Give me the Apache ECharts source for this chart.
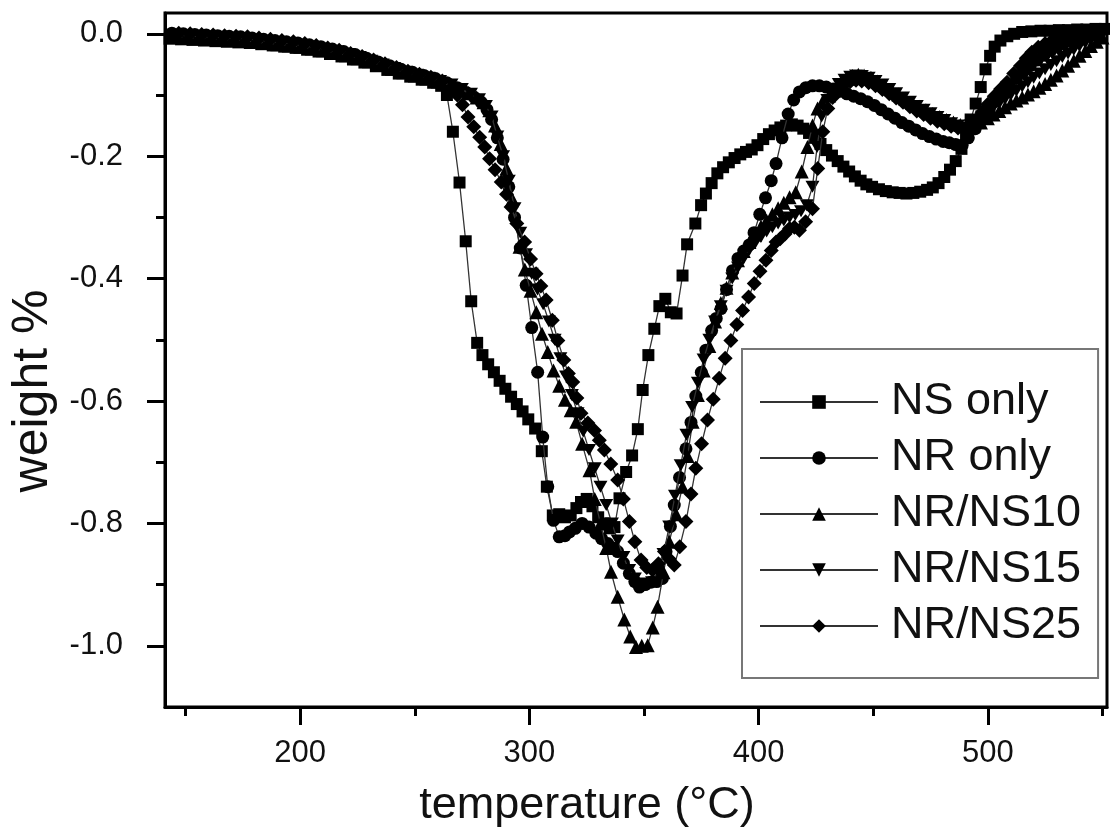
<!DOCTYPE html>
<html><head><meta charset="utf-8">
<script src="https://cdn.jsdelivr.net/npm/echarts@6/dist/echarts.min.js"></script>
<style>html,body{margin:0;padding:0;background:#fff}#c{width:1110px;height:837px}</style>
</head><body><div id="c"></div>
<script>
const seriesNames = ['NS only', 'NR only', 'NR/NS10', 'NR/NS15', 'NR/NS25'];
const xTickLabels = [200, 300, 400, 500];
const yTickLabels = [-1.0, -0.8, -0.6, -0.4, -0.2, 0.0];

const nsOnly = [[143,-0.008],[148,-0.009],[153,-0.010],[158,-0.011],[163,-0.012],[168,-0.013],[173,-0.014],[178,-0.015],[183,-0.017],[188,-0.019],[193,-0.021],[198,-0.023],[203,-0.026],[208,-0.029],[213,-0.033],[218,-0.037],[223,-0.042],[228,-0.047],[233,-0.053],[238,-0.059],[243,-0.065],[248,-0.070],[253,-0.075],[258,-0.080],[261.5,-0.085],[264,-0.100],[266.6,-0.160],[269.5,-0.243],[272.2,-0.339],[274.6,-0.437],[277.2,-0.505],[279.5,-0.525],[282,-0.540],[284.5,-0.553],[287,-0.567],[289.5,-0.580],[292,-0.593],[294.5,-0.605],[297,-0.617],[299.5,-0.630],[302.5,-0.645],[305.4,-0.682],[307.6,-0.740],[310.2,-0.787],[313,-0.785],[315.5,-0.790],[318,-0.787],[320.5,-0.775],[322.5,-0.765],[325,-0.760],[327.5,-0.772],[330,-0.790],[332.5,-0.800],[335,-0.808],[337.1,-0.806],[339.3,-0.759],[342.2,-0.716],[344.8,-0.689],[347.3,-0.646],[349.4,-0.582],[351.9,-0.525],[354.5,-0.482],[356.7,-0.445],[359.3,-0.433],[361.7,-0.455],[364.2,-0.457],[366.8,-0.395],[368.8,-0.344],[372.4,-0.310],[374.9,-0.280],[377,-0.261],[379.5,-0.244],[382,-0.228],[384.5,-0.218],[387,-0.210],[389.5,-0.203],[392,-0.197],[394.5,-0.193],[397,-0.189],[399.5,-0.182],[402,-0.172],[404.5,-0.164],[407,-0.158],[409.5,-0.153],[412,-0.150],[414.5,-0.148],[417,-0.150],[419.5,-0.155],[422,-0.162],[424.5,-0.170],[427,-0.180],[429.5,-0.190],[432,-0.199],[434.5,-0.208],[437,-0.217],[439.5,-0.225],[442,-0.233],[444.5,-0.240],[447,-0.246],[449.5,-0.250],[452.5,-0.254],[455.5,-0.257],[458.5,-0.259],[461.5,-0.260],[464.5,-0.261],[467.5,-0.260],[470.5,-0.258],[473.5,-0.255],[476,-0.251],[478.5,-0.244],[481,-0.234],[483.5,-0.222],[486,-0.208],[488.5,-0.188],[490.5,-0.165],[492.5,-0.140],[494.7,-0.114],[496.9,-0.087],[499,-0.058],[501,-0.036],[503,-0.021],[505.5,-0.011],[508.5,-0.004],[511.5,0.000],[515,0.003],[519,0.004],[523,0.005],[527,0.005],[531,0.006],[535,0.006],[539,0.007],[543,0.007],[547,0.008],[551,0.008]];

const nrOnly = [[144,0.001],[149,0.000],[154,-0.001],[159,-0.002],[164,-0.003],[169,-0.004],[174,-0.005],[179,-0.007],[184,-0.009],[189,-0.011],[194,-0.013],[199,-0.015],[204,-0.018],[209,-0.021],[214,-0.025],[219,-0.029],[224,-0.034],[229,-0.040],[234,-0.046],[239,-0.052],[244,-0.058],[249,-0.063],[254,-0.068],[259,-0.073],[264,-0.080],[268.5,-0.088],[272.5,-0.096],[276,-0.104],[279,-0.112],[281.5,-0.124],[283.5,-0.140],[286,-0.170],[288.5,-0.205],[291,-0.250],[293.5,-0.300],[296,-0.350],[298.6,-0.411],[301,-0.480],[303.6,-0.553],[305.8,-0.659],[308,-0.740],[310.5,-0.795],[313,-0.822],[315.5,-0.820],[317.5,-0.814],[320,-0.808],[323,-0.800],[326,-0.806],[329,-0.816],[331.5,-0.825],[334.2,-0.833],[336.5,-0.840],[338.5,-0.846],[341,-0.865],[343.6,-0.882],[346,-0.895],[348,-0.904],[350.5,-0.900],[353,-0.896],[355.5,-0.895],[358,-0.890],[359.6,-0.846],[361.5,-0.805],[363.2,-0.770],[365.5,-0.725],[368.3,-0.678],[370.5,-0.635],[372.6,-0.592],[375,-0.553],[377,-0.517],[379.5,-0.485],[381.5,-0.465],[383.6,-0.449],[386,-0.418],[388.6,-0.387],[391,-0.367],[393.5,-0.355],[395.9,-0.345],[398,-0.325],[400.5,-0.295],[403,-0.268],[405.5,-0.240],[407.6,-0.212],[410.2,-0.170],[412.9,-0.131],[415.3,-0.108],[417.8,-0.095],[420.6,-0.088],[423.5,-0.085],[426.5,-0.085],[429.5,-0.087],[432.5,-0.090],[435.5,-0.094],[438.5,-0.098],[441.5,-0.102],[444.5,-0.106],[447.5,-0.111],[450.5,-0.117],[453.5,-0.124],[456.5,-0.131],[459.5,-0.138],[462.5,-0.145],[465.5,-0.151],[468.5,-0.157],[471.5,-0.163],[474.5,-0.168],[477.5,-0.172],[480.5,-0.176],[483.2,-0.178],[486,-0.181],[488.8,-0.182],[491.5,-0.170],[494.5,-0.155],[497.5,-0.140],[500.5,-0.125],[503.5,-0.110],[506.5,-0.097],[509.5,-0.085],[512.5,-0.073],[515.5,-0.062],[518.5,-0.052],[521.5,-0.043],[524.5,-0.035],[527.5,-0.027],[530.5,-0.020],[533.5,-0.014],[536.5,-0.009],[539.5,-0.005],[542.5,-0.002],[545.5,0.000],[548.5,0.001]];

const nrNs10 = [[145,-0.005],[150,-0.006],[155,-0.007],[160,-0.008],[165,-0.009],[170,-0.010],[175,-0.011],[180,-0.013],[185,-0.015],[190,-0.017],[195,-0.019],[200,-0.021],[205,-0.024],[210,-0.027],[215,-0.031],[220,-0.035],[225,-0.040],[230,-0.045],[235,-0.051],[240,-0.057],[245,-0.063],[250,-0.068],[255,-0.073],[260,-0.078],[265,-0.084],[269.5,-0.090],[273.5,-0.097],[277,-0.104],[280,-0.112],[282.5,-0.125],[285,-0.150],[287.5,-0.180],[290,-0.220],[292.5,-0.270],[295.7,-0.348],[298,-0.385],[300.5,-0.420],[303,-0.455],[305.5,-0.490],[308,-0.520],[310.5,-0.550],[313,-0.575],[315.5,-0.598],[318,-0.615],[320.4,-0.634],[323,-0.670],[326.2,-0.713],[328.5,-0.760],[331,-0.800],[333.5,-0.840],[335.6,-0.879],[338.5,-0.920],[341.4,-0.957],[344,-0.985],[346.5,-1.002],[349,-1.000],[351.6,-0.999],[353.8,-0.970],[355.9,-0.936],[358.5,-0.880],[361,-0.830],[364,-0.785],[366.8,-0.740],[369,-0.690],[371.2,-0.634],[373.5,-0.590],[376,-0.550],[378.5,-0.510],[381,-0.470],[383.5,-0.440],[386,-0.415],[388.5,-0.390],[391,-0.370],[393.5,-0.355],[396,-0.340],[398.5,-0.328],[401,-0.315],[403.5,-0.305],[406,-0.295],[408.5,-0.285],[411,-0.276],[413.5,-0.267],[416.2,-0.259],[418.8,-0.225],[421.3,-0.185],[423.5,-0.150],[425.7,-0.122],[428,-0.110],[430.8,-0.101],[433.5,-0.090],[436,-0.081],[438.5,-0.074],[441,-0.069],[443.5,-0.067],[446,-0.068],[449,-0.072],[452,-0.078],[455,-0.085],[458,-0.092],[461,-0.099],[464,-0.106],[467,-0.113],[470,-0.119],[473,-0.125],[476,-0.131],[479,-0.136],[482,-0.141],[485,-0.145],[488,-0.149],[491,-0.152],[494,-0.150],[497,-0.145],[500,-0.138],[502.5,-0.132],[505,-0.126],[507.5,-0.120],[510,-0.114],[512.5,-0.109],[515,-0.104],[517.5,-0.099],[520,-0.094],[522.5,-0.088],[525,-0.082],[527.5,-0.075],[530,-0.068],[532.5,-0.060],[535,-0.052],[537.5,-0.044],[540,-0.036],[542.5,-0.028],[545,-0.020],[547.5,-0.013],[550,-0.006]];

const nrNs15 = [[146,-0.002],[151,-0.003],[156,-0.004],[161,-0.005],[166,-0.006],[171,-0.007],[176,-0.008],[181,-0.010],[186,-0.012],[191,-0.014],[196,-0.016],[201,-0.019],[206,-0.022],[211,-0.025],[216,-0.029],[221,-0.033],[226,-0.038],[231,-0.044],[236,-0.050],[241,-0.056],[246,-0.062],[251,-0.067],[256,-0.072],[261,-0.077],[266,-0.083],[270.5,-0.090],[274.5,-0.098],[278,-0.107],[281,-0.118],[283.5,-0.135],[286,-0.168],[288.5,-0.200],[291,-0.240],[293.5,-0.285],[296,-0.325],[298.5,-0.360],[301,-0.392],[303.5,-0.418],[306,-0.442],[308.5,-0.470],[311,-0.500],[313.5,-0.530],[316,-0.560],[318.5,-0.590],[321,-0.620],[323.5,-0.650],[326,-0.680],[328.5,-0.710],[331,-0.740],[333.5,-0.770],[336,-0.800],[338.5,-0.828],[341,-0.855],[343.5,-0.876],[346,-0.890],[348.5,-0.898],[351,-0.900],[353.5,-0.896],[356,-0.880],[358.5,-0.850],[361,-0.805],[363.5,-0.755],[366,-0.705],[368.5,-0.655],[371,-0.610],[373.5,-0.570],[376,-0.532],[378.5,-0.500],[381,-0.470],[383.5,-0.445],[386,-0.420],[388.5,-0.400],[391,-0.382],[393.5,-0.367],[396,-0.353],[398.5,-0.342],[401,-0.332],[403.5,-0.323],[406,-0.316],[408.5,-0.310],[411,-0.305],[413.5,-0.300],[416,-0.296],[418.5,-0.290],[421,-0.280],[423.5,-0.250],[425.5,-0.185],[427.5,-0.135],[430,-0.108],[432.5,-0.092],[435,-0.082],[437.5,-0.075],[440,-0.070],[442.5,-0.068],[445,-0.069],[448,-0.072],[451,-0.077],[454,-0.083],[457,-0.090],[460,-0.097],[463,-0.104],[466,-0.111],[469,-0.118],[472,-0.124],[475,-0.130],[478,-0.136],[481,-0.141],[484,-0.146],[487,-0.150],[490,-0.154],[492.5,-0.150],[495,-0.143],[497.5,-0.135],[500,-0.127],[502.5,-0.120],[505,-0.114],[507.5,-0.107],[510,-0.100],[512.5,-0.093],[515,-0.086],[517.5,-0.079],[520,-0.072],[522.5,-0.065],[525,-0.058],[527.5,-0.051],[530,-0.045],[532.5,-0.038],[535,-0.032],[537.5,-0.026],[540,-0.020],[542.5,-0.015],[545,-0.010],[547.5,-0.005],[550,-0.002]];

const nrNs25 = [[147,0.001],[152,0.000],[157,-0.001],[162,-0.002],[167,-0.003],[172,-0.004],[177,-0.005],[182,-0.007],[187,-0.009],[192,-0.011],[197,-0.013],[202,-0.016],[207,-0.019],[212,-0.023],[217,-0.027],[222,-0.032],[227,-0.037],[232,-0.043],[237,-0.049],[242,-0.055],[247,-0.061],[252,-0.066],[257,-0.071],[262,-0.077],[266,-0.088],[268.5,-0.100],[270.8,-0.116],[273.2,-0.136],[275.7,-0.152],[278.3,-0.169],[280.5,-0.185],[282.6,-0.204],[285,-0.222],[287.7,-0.242],[290,-0.262],[292,-0.283],[294.5,-0.310],[297.9,-0.340],[300.5,-0.368],[302.9,-0.392],[305,-0.412],[307.3,-0.435],[310,-0.468],[312.4,-0.501],[315,-0.533],[317,-0.555],[318.9,-0.569],[320.7,-0.595],[322.5,-0.620],[325.5,-0.636],[328.4,-0.648],[330.5,-0.664],[332.7,-0.680],[335.5,-0.703],[338.5,-0.729],[341,-0.760],[343.6,-0.797],[346,-0.830],[348.7,-0.860],[351.2,-0.872],[353.7,-0.876],[356.3,-0.866],[358.9,-0.846],[361,-0.858],[363.2,-0.868],[365.6,-0.838],[368.3,-0.797],[370.5,-0.752],[372.6,-0.710],[375.1,-0.670],[377.7,-0.631],[380.2,-0.597],[382.8,-0.563],[385.4,-0.530],[387.9,-0.501],[390.5,-0.475],[393,-0.452],[395.6,-0.430],[398.1,-0.408],[400.6,-0.388],[403.2,-0.370],[405.5,-0.354],[407.6,-0.340],[409.4,-0.335],[411.5,-0.327],[413.5,-0.318],[415.6,-0.316],[417.8,-0.321],[420.5,-0.307],[423.5,-0.286],[425.8,-0.220],[428,-0.160],[430.2,-0.122],[432.3,-0.104],[435,-0.092],[437.5,-0.083],[440,-0.078],[442.5,-0.076],[445,-0.077],[448,-0.080],[451,-0.085],[454,-0.091],[457,-0.098],[460,-0.105],[463,-0.112],[466,-0.119],[469,-0.126],[472,-0.132],[475,-0.138],[478,-0.143],[481,-0.147],[484,-0.151],[487,-0.154],[490,-0.155],[492.5,-0.150],[495,-0.140],[497.5,-0.128],[500,-0.115],[502.8,-0.102],[505.6,-0.090],[508.4,-0.079],[511.3,-0.065],[514.3,-0.052],[516.8,-0.040],[519.2,-0.030],[522,-0.022],[525,-0.016],[528,-0.011],[531,-0.007],[534,-0.004],[537,-0.002],[540,-0.001],[543,0.000],[546,0.001],[549,0.002]];

const seriesData = [nsOnly, nrOnly, nrNs10, nrNs15, nrNs25];
const symbols = ['rect', 'circle', 'triangle', 'path://M0,0L20,0L10,17Z', 'diamond'];
const symbolSizes = [12, 13, 14, [14, 12], 15];

const FONT = 'Liberation Sans, Arial, sans-serif';
const chart = echarts.init(document.getElementById('c'), null, {renderer: 'canvas'});

const series = seriesNames.map((name, i) => ({
  name: name,
  type: 'line',
  data: seriesData[i],
  symbol: symbols[i],
  symbolSize: symbolSizes[i],
  showSymbol: true,
  showAllSymbol: true,
  lineStyle: {color: '#333', width: 1.3},
  itemStyle: {color: '#000', borderWidth: 0},
  emphasis: {disabled: true},
  z: 2 + i
}));

chart.setOption({
  animation: false,
  backgroundColor: '#fff',
  grid: {left: 165, right: 3, top: 13, bottom: 130, containLabel: false, outerBoundsMode: 'none',
    show: true, borderColor: '#000', borderWidth: 3, backgroundColor: 'transparent'},
  legend: {
    orient: 'vertical',
    left: 742, top: 349,
    padding: [30, 17, 29, 17],
    backgroundColor: '#fff',
    borderColor: '#777', borderWidth: 2,
    itemWidth: 118, itemHeight: 17, itemGap: 10,
    textStyle: {fontFamily: FONT, fontSize: 45, color: '#111', lineHeight: 46, padding: [0, 0, 0, 8]},
    data: seriesNames,
    selectedMode: false
  },
  xAxis: {
    type: 'value', min: 141, max: 552, splitNumber: 4,
    axisLine: {show: true, onZero: false, lineStyle: {color: '#000', width: 3}},
    axisTick: {show: true, inside: false, length: 18, lineStyle: {color: '#000', width: 3}, customValues: xTickLabels},
    minorTick: {show: true, splitNumber: 2, length: 9, lineStyle: {color: '#000', width: 3}},
    axisLabel: {customValues: xTickLabels, margin: 31, fontFamily: FONT, fontSize: 31, color: '#111'},
    splitLine: {show: false},
    name: 'temperature (°C)', nameLocation: 'middle', nameGap: 76,
    nameTextStyle: {fontFamily: FONT, fontSize: 45, color: '#111', padding: [0, 98, 0, 0]}
  },
  yAxis: {
    type: 'value', min: -1.1, max: 0.034, splitNumber: 6,
    axisLine: {show: true, onZero: false, lineStyle: {color: '#000', width: 3}},
    axisTick: {show: true, inside: false, length: 18, lineStyle: {color: '#000', width: 3}, customValues: yTickLabels},
    minorTick: {show: true, splitNumber: 2, length: 9, lineStyle: {color: '#000', width: 3}},
    axisLabel: {customValues: yTickLabels, margin: 42, fontFamily: FONT, fontSize: 31, color: '#111',
      formatter: v => (Math.abs(v) < 1e-9 ? '0.0' : v.toFixed(1))},
    splitLine: {show: false},
    name: 'weight %', nameLocation: 'middle', nameGap: 100,
    nameTextStyle: {fontFamily: FONT, fontSize: 50, color: '#111', padding: [0, 62, 0, 0]}
  },
  series: series
});
</script>
</body></html>
